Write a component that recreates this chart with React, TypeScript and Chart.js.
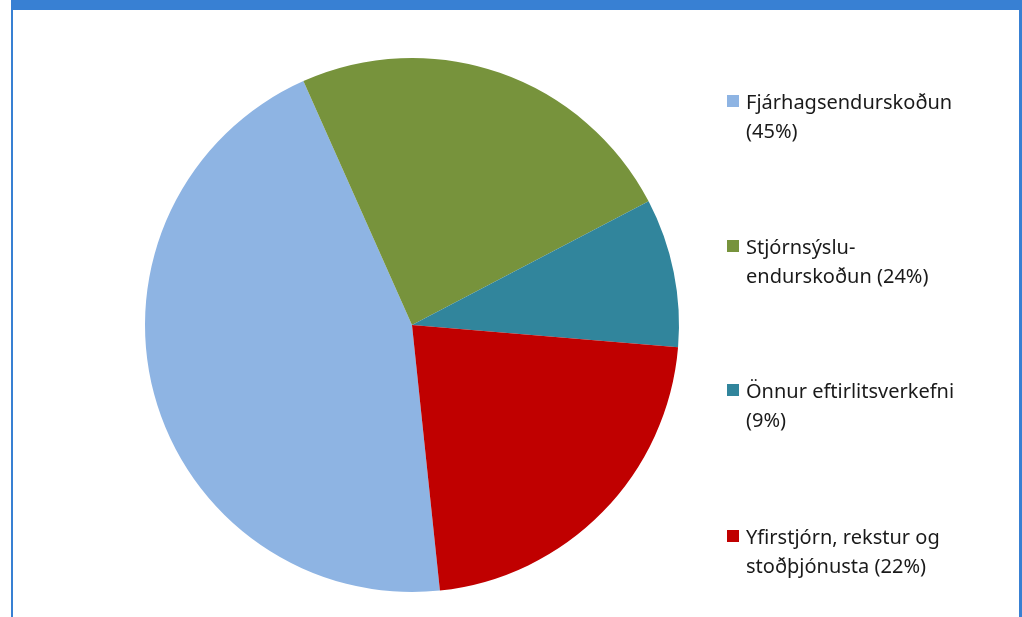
import React, { useEffect, useRef } from 'react';
import { Chart, PieController, ArcElement } from 'chart.js';

Chart.register(PieController, ArcElement);

const categories = [
  'Fjárhagsendurskoðun',
  'Stjórnsýsluendurskoðun',
  'Önnur eftirlitsverkefni',
  'Yfirstjórn, rekstur og stoðþjónusta',
];
const shares = [45, 24, 9, 22];
const legendLines = [
  ['Fjárhagsendurskoðun', '(45%)'],
  ['Stjórnsýslu-', 'endurskoðun (24%)'],
  ['Önnur eftirlitsverkefni', '(9%)'],
  ['Yfirstjórn, rekstur og', 'stoðþjónusta (22%)'],
];
const sliceColors = ['#8EB4E3', '#77933C', '#31859C', '#C00000'];

const FRAME_BLUE = '#3880D3';
const LEGEND_FONT = '20px "Noto Sans", Lato, sans-serif';

const framePlugin = {
  id: 'frame',
  beforeDraw(chart: any) {
    const ctx = chart.ctx;
    ctx.save();
    ctx.fillStyle = '#ffffff';
    ctx.fillRect(0, 0, chart.width, chart.height);
    ctx.fillStyle = FRAME_BLUE;
    ctx.fillRect(11, 0, chart.width - 11, 10);
    ctx.fillRect(11, 0, 2, chart.height);
    ctx.fillRect(chart.width - 3, 0, 3, chart.height);
    ctx.restore();
  },
};

const legendPlugin = {
  id: 'sideLegend',
  afterDraw(chart: any) {
    const ctx = chart.ctx;
    const ds = chart.data.datasets[0];
    const baselines = [109, 254, 398, 544];
    const lineH = 29;
    ctx.save();
    ctx.font = LEGEND_FONT;
    ctx.textBaseline = 'alphabetic';
    ctx.textAlign = 'left';
    legendLines.forEach((lines, i) => {
      const b = baselines[i];
      ctx.fillStyle = ds.backgroundColor[i];
      ctx.fillRect(727, b - 14, 12, 12);
      ctx.fillStyle = '#1a1a1a';
      lines.forEach((t, j) => ctx.fillText(t, 746, b + j * lineH));
    });
    ctx.restore();
  },
};

export default function App() {
  const ref = useRef<HTMLCanvasElement | null>(null);
  useEffect(() => {
    document.body.style.margin = '0';
    const canvas = ref.current!;
    const chart = new Chart(canvas, {
      type: 'pie',
      data: {
        labels: categories,
        datasets: [
          {
            data: shares,
            backgroundColor: sliceColors,
            borderWidth: 0,
          },
        ],
      },
      options: {
        animation: false,
        responsive: false,
        devicePixelRatio: 1,
        rotation: 174,
        layout: { padding: { left: 145, top: 58, right: 343, bottom: 25 } },
        plugins: { legend: { display: false }, tooltip: { enabled: false } },
      },
      plugins: [framePlugin, legendPlugin],
    });
    return () => chart.destroy();
  }, []);
  return (
    <div style={{ width: 1022, height: 617, position: 'relative' }}>
      <canvas ref={ref} width={1022} height={617} style={{ display: 'block' }} />
    </div>
  );
}
